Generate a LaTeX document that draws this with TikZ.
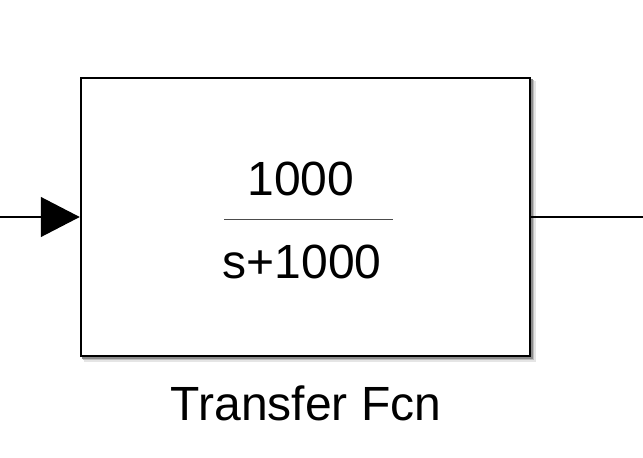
\documentclass[tikz,border=0pt]{standalone}
\usepackage{fontspec}
\setmainfont{Liberation Sans}
\usetikzlibrary{arrows.meta}
\tikzset{
  blockbox/.style={draw=black, line width=2.5pt, fill=white, minimum width=449pt, minimum height=278pt, inner sep=0pt},
  conn/.style={line width=1.3pt, draw=black},
  bigtext/.style={font=\fontsize{48}{58}\selectfont, inner sep=0pt, anchor=base},
}
\begin{document}
\begin{tikzpicture}[x=1pt,y=-1pt]
\useasboundingbox (0,0) rectangle (643,458);
% shadow
\fill[black!10] (84,81) rectangle (535.5,361.5);
\fill[black!25] (83,80) rectangle (534,360);
\fill[black!45] (82,79) rectangle (532.5,358.5);
\node[blockbox] (tf) at (305.5,217) {};
\node[bigtext] (num) at (301,195) {1000};
\node[bigtext] (den) at (302,278) {s+1000};
\draw[line width=0.9pt, black!70] (224,219) coordinate (fl) -- (393,219) coordinate (fr);
\node[bigtext] (lbl) at (306,420) {Transfer Fcn};
\coordinate (in) at (0,217);
\coordinate (out) at (643,217);
\draw[conn, -{Triangle[length=39pt,width=40pt]}] (in) -- (tf.west);
\draw[conn] (tf.east) -- (out);
\end{tikzpicture}
\end{document}
